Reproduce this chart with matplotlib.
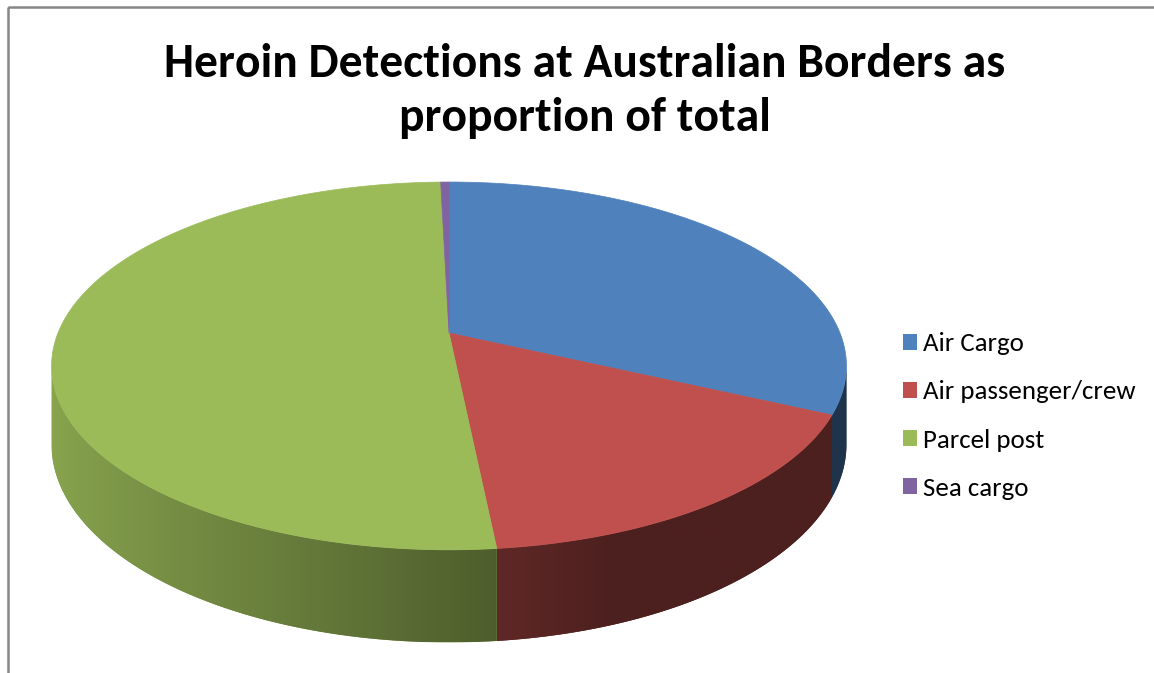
import numpy as np
import matplotlib
matplotlib.use('Agg')
import matplotlib.pyplot as plt
from matplotlib.patches import Polygon, Rectangle, Patch
from matplotlib import font_manager
import matplotlib.colors as mcolors

# ---------------- data ----------------
categories = ['Air Cargo', 'Air passenger/crew', 'Parcel post', 'Sea cargo']
values = [32.0, 16.4, 51.2, 0.4]
colors = ['#4F81BD', '#C0504D', '#9BBB59', '#8064A2']
title_lines = ['Heroin Detections at Australian Borders as', 'proportion of total']

# ---------------- figure ----------------
W, H = 1154, 673
fig = plt.figure(figsize=(W / 100, H / 100), dpi=100)
ax = fig.add_axes([0, 0, 1, 1])

avail = {f.name for f in font_manager.fontManager.ttflist}
family = next((f for f in ['Carlito', 'Calibri', 'Lato', 'Open Sans'] if f in avail), 'DejaVu Sans')

# perspective projection of a unit disc (pie) seen from above/front
CX, CY = 449, 333
RX, A, K, T = 391, 178, 0.179, 76


def proj(phi_deg, z):
    phi = np.radians(phi_deg)
    u, v = np.cos(phi), np.sin(phi)
    den = 1 + K * v
    return CX + RX * u / den, CY + (-A * v + T * z) / den


def shade(phi_deg):
    theta = 90 - np.asarray(phi_deg)  # clockwise from 12 o'clock
    g = np.clip((theta - 160) / 110.0, 0, 1)
    return 0.40 + 0.49 * np.sin(g * np.pi / 2)


fr = np.asarray(values, dtype=float) / np.sum(values)
bounds = 90 - 360 * np.concatenate([[0], np.cumsum(fr)])

vis_hi = -np.degrees(np.arcsin(K))
vis_lo = -180 + np.degrees(np.arcsin(K))

# side walls: polygon filled with a horizontal shading gradient
for i, col in enumerate(colors):
    hi, lo = bounds[i], bounds[i + 1]
    a_hi, a_lo = min(hi, vis_hi), max(lo, vis_lo)
    if a_hi <= a_lo:
        continue
    angs = np.linspace(a_lo, a_hi, max(3, int((a_hi - a_lo) / 0.25)))
    xt, yt = proj(angs, 0)
    xb, yb = proj(angs, 1)
    pts = list(zip(xt, yt)) + list(zip(xb[::-1], yb[::-1]))
    base = np.array(mcolors.to_rgb(col))
    wall = Polygon(pts, closed=True, facecolor=base * shade(angs.mean()),
                   edgecolor='none', zorder=1)
    ax.add_patch(wall)
    x0, x1 = xt.min(), xt.max()
    cols = np.linspace(x0, x1, max(2, int(x1 - x0) * 2))
    phi_c = np.interp(cols, xt, angs)
    img = np.clip(base[None, :] * shade(phi_c)[:, None], 0, 1)[None, :, :]
    y0, y1 = min(yt.min(), yb.min()), max(yt.max(), yb.max())
    im = ax.imshow(img, extent=(x0, x1, y1, y0), aspect='auto',
                   interpolation='bilinear', zorder=1.5)
    im.set_clip_path(wall)

# top faces
for i, col in enumerate(colors):
    hi, lo = bounds[i], bounds[i + 1]
    n = max(2, int((hi - lo) / 0.5))
    angs = np.linspace(hi, lo, n + 1)
    xs, ys = proj(angs, 0)
    pts = [(CX, CY)] + list(zip(xs, ys))
    ax.add_patch(Polygon(pts, closed=True, facecolor=col, edgecolor=col, linewidth=0.5, zorder=2))

ax.set_xlim(0, W)
ax.set_ylim(H, 0)
ax.axis('off')

# chart frame (top and left edges visible)
ax.add_patch(Rectangle((8, 7), 1300, 800, fill=False, edgecolor='#878787', linewidth=1.8, zorder=5))

# title (fit to reference width)
renderer = fig.canvas.get_renderer()
t1 = fig.text(585 / W, 1 - 77 / H, title_lines[0], ha='center', va='baseline',
              fontsize=36, fontweight='bold', family=family, color='black')
w1 = t1.get_window_extent(renderer).width
fs_title = 36 * 840 / w1
t1.set_fontsize(fs_title)
fig.text(585 / W, 1 - 131 / H, title_lines[1], ha='center', va='baseline',
         fontsize=fs_title, fontweight='bold', family=family, color='black')

# legend font fitted to reference label width
tmp = fig.text(0, 0, categories[1], fontsize=18, family=family)
wl = tmp.get_window_extent(renderer).width
fs_leg = 18 * 212 / wl
tmp.remove()
px = fs_leg * 100 / 72
handles = [Patch(facecolor=c, edgecolor='none') for c in colors]
fig.legend(handles, categories, loc='center left', bbox_to_anchor=(903 / W, 1 - 416 / H),
           frameon=False, prop={'family': family, 'size': fs_leg},
           handlelength=14 / px, handleheight=14 / px, handletextpad=6 / px,
           labelspacing=(52 - px * 1.0) / px, borderpad=0, borderaxespad=0)

fig.savefig('out.png', dpi=100)
